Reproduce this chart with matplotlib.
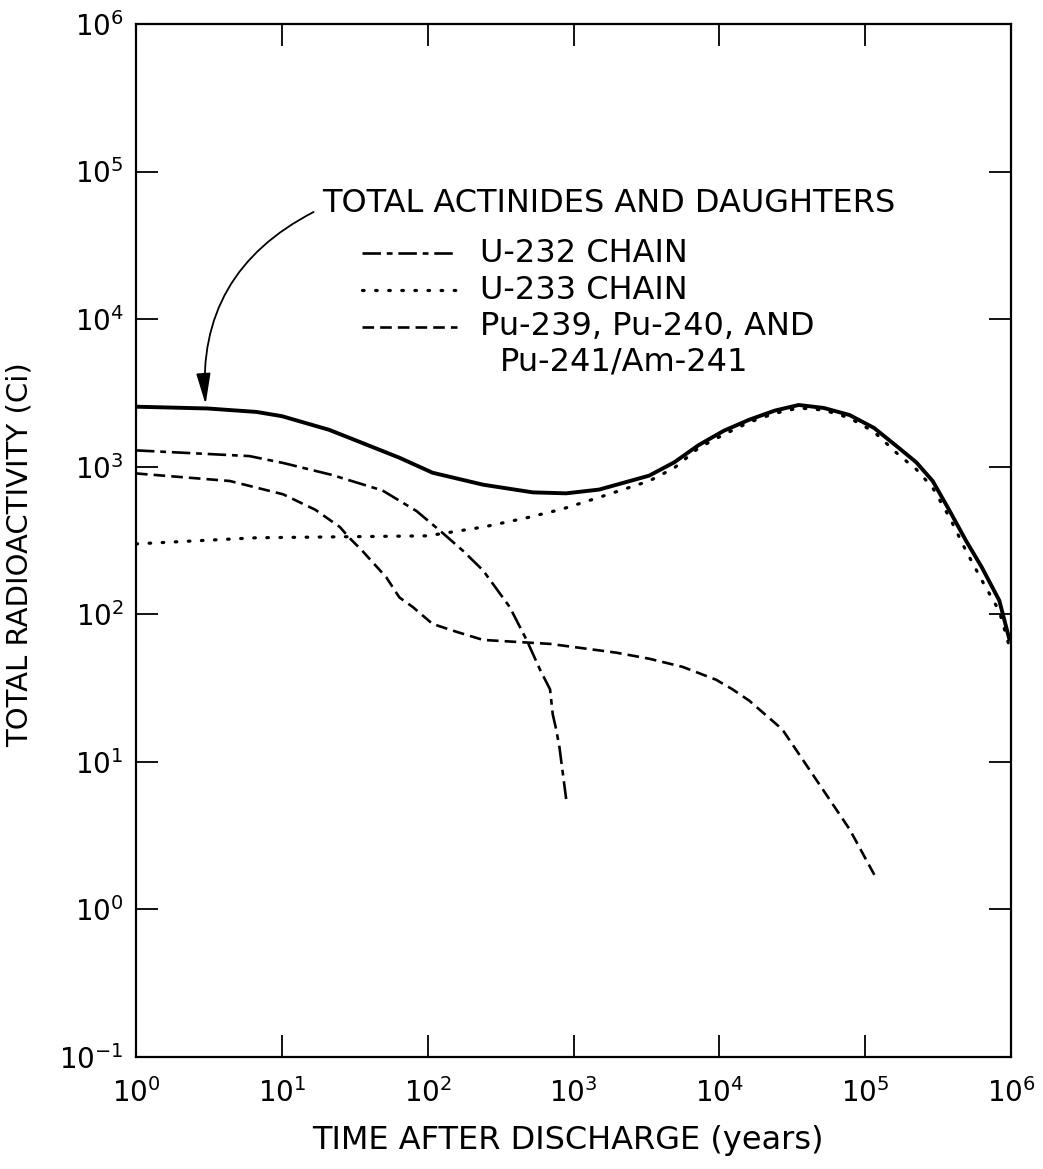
import matplotlib
matplotlib.use("Agg")
import matplotlib.pyplot as plt
from matplotlib.lines import Line2D
from matplotlib.ticker import FixedLocator, NullLocator, LogFormatterSciNotation

# === du lieu doc tu hinh (t: nam, v: Ci) ===
total_t = [1, 3.1, 6.7, 10, 21, 29, 64, 108, 240, 525, 890, 1500, 3300, 4900,
           7200, 10700, 16000, 24000, 35000, 52000, 78000, 115000, 170000,
           224000, 290000, 380000, 490000, 630000, 830000, 980000]
total_v = [2550, 2480, 2350, 2200, 1780, 1570, 1150, 910, 755, 670, 660, 700, 870, 1070,
           1400, 1750, 2080, 2400, 2620, 2500, 2240, 1830, 1340,
           1070, 800, 500, 316, 208, 124, 66]

u232_t = [1, 6, 10.2, 22, 49, 84, 126, 174, 240, 365, 480, 590, 690, 720, 760, 800, 890]
u232_v = [1290, 1180, 1060, 880, 690, 500, 357, 270, 198, 112, 66, 42, 31, 21, 16.6, 12.6, 5.6]

u233_t = [1, 6.7, 100, 240, 475, 830, 1500, 3300, 4900, 7200, 10700, 16000,
          24000, 35000, 52000, 78000, 115000, 170000, 224000, 290000, 380000,
          490000, 630000, 830000, 1000000]
u233_v = [300, 330, 340, 390, 450, 515, 620, 800, 980, 1340, 1650, 2000,
          2300, 2500, 2420, 2140, 1720, 1200, 960, 720, 450,
          270, 170, 105, 55]

pu_t = [1, 4.4, 10.2, 17, 25, 29, 35.5, 52, 64, 79, 108, 158, 240, 690, 1950,
        3300, 5600, 9500, 12300, 16000, 27000, 46000, 78000, 120000]
pu_v = [900, 800, 650, 510, 390, 330, 270, 178, 130, 112, 86, 76, 67, 63, 55,
        50, 44, 36, 31, 26, 16.6, 7.6, 3.5, 1.6]

x_ticks = [1e0, 1e1, 1e2, 1e3, 1e4, 1e5, 1e6]
y_ticks = [1e-1, 1e0, 1e1, 1e2, 1e3, 1e4, 1e5, 1e6]

legend_labels = ["U-232 CHAIN", "U-233 CHAIN", "Pu-239, Pu-240, AND", "Pu-241/Am-241"]
total_label = "TOTAL ACTINIDES AND DAUGHTERS"

# === kieu duong ===
st_u232 = dict(color="black", lw=1.9, dashes=(7, 2.2, 2.2, 2.2))
st_u233 = dict(color="black", lw=2.3, dashes=(0.5, 3.6), dash_capstyle="round")
st_pu = dict(color="black", lw=1.9, dashes=(4.4, 2.3))

fig = plt.figure(figsize=(10.43, 11.69), dpi=100)
ax = fig.add_axes([0.1304, 0.0958, 0.8390, 0.8837])

ax.plot(total_t, total_v, color="black", lw=2.8, solid_capstyle="butt")
ax.plot(u232_t, u232_v, **st_u232)
ax.plot(u233_t, u233_v, **st_u233)
ax.plot(pu_t, pu_v, **st_pu)

ax.set_xscale("log")
ax.set_yscale("log")
ax.set_xlim(1, 1e6)
ax.set_ylim(1e-1, 1e6)
ax.xaxis.set_major_locator(FixedLocator(x_ticks))
ax.yaxis.set_major_locator(FixedLocator(y_ticks))
ax.xaxis.set_major_formatter(LogFormatterSciNotation())
ax.yaxis.set_major_formatter(LogFormatterSciNotation())
ax.xaxis.set_minor_locator(NullLocator())
ax.yaxis.set_minor_locator(NullLocator())

ax.tick_params(which="major", direction="in", length=16, width=1.3,
               top=True, right=True, labelsize=20)
ax.tick_params(axis="x", pad=15)
ax.tick_params(axis="y", pad=9)
for s in ax.spines.values():
    s.set_linewidth(1.6)

ax.set_xlabel("TIME AFTER DISCHARGE (years)", fontsize=23)
ax.xaxis.set_label_coords(0.493, -0.066)
ax.set_ylabel("TOTAL RADIOACTIVITY (Ci)", fontsize=21)
ax.yaxis.set_label_coords(-0.117, 0.486)

# === chu thich ===
ax.text(0.2126, 0.826, total_label, transform=ax.transAxes,
        fontsize=23, va="center", ha="left")
ax.annotate("", xy=(3.0, 2650), xycoords="data",
            xytext=(0.203, 0.818), textcoords="axes fraction",
            arrowprops=dict(arrowstyle="-|>,head_length=0.95,head_width=0.22",
                            connectionstyle="arc3,rad=0.33", color="black",
                            lw=1.3, mutation_scale=20, shrinkA=0, shrinkB=0))

line_x = [0.2583, 0.3669]
rows_y = [0.778, 0.742, 0.707, 0.673]
text_x = [0.393, 0.393, 0.393, 0.416]
for yy, st in zip(rows_y, [st_u232, st_u233, st_pu]):
    ax.add_line(Line2D(line_x, [yy, yy], transform=ax.transAxes, **st))
for xx, yy, lab in zip(text_x, rows_y, legend_labels):
    ax.text(xx, yy, lab, transform=ax.transAxes,
            fontsize=23, va="center", ha="left")

fig.savefig("out.png", dpi=100)
